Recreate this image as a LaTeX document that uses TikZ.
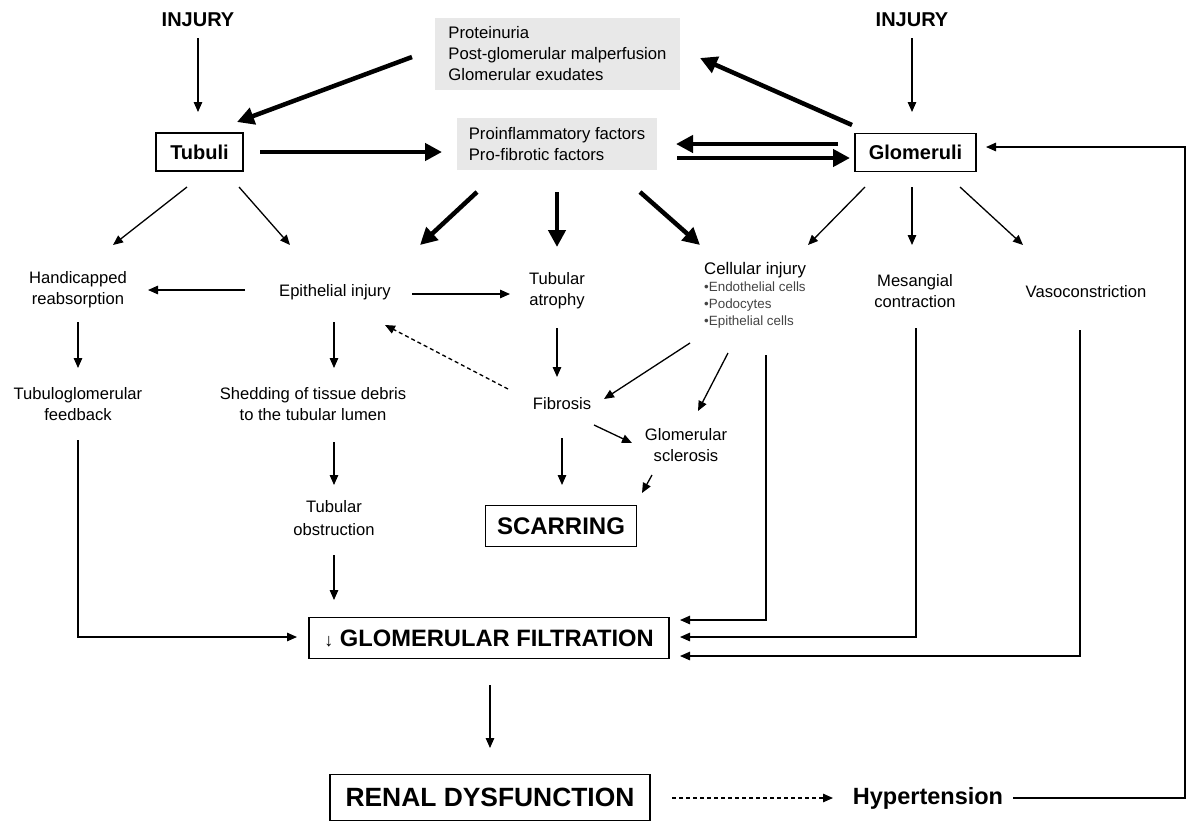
\documentclass[tikz,border=0pt]{standalone}
\usepackage{fontspec}
\setmainfont{Liberation Sans}
\usetikzlibrary{calc,arrows.meta}
\definecolor{greybox}{HTML}{E8E8E8}
\definecolor{bullettext}{HTML}{444444}
\newcommand{\smallcell}{\fontsize{13.4}{17}\selectfont}
\newcommand{\bigcell}{\fontsize{16.8}{18}\selectfont}
\newcommand{\bul}{\color{bullettext}}
\tikzset{
  txt/.style={font=\fontsize{16.6}{21}\selectfont, align=center, inner sep=0pt},
  btxt/.style={font=\fontsize{20}{22}\selectfont\bfseries, align=center, inner sep=0pt},
  frame/.style={draw, line width=1.4pt},
  gbox/.style={fill=greybox, font=\fontsize{16.7}{21}\selectfont, align=left, inner sep=0pt},
  arr/.style={line width=1.3pt, -{Triangle[length=10pt,width=8.5pt]}},
  darr/.style={arr, dashed, dash pattern=on 4pt off 3pt},
  tarr/.style={line width=4.5pt, -{Triangle[length=17pt,width=17pt]}},
}
\begin{document}
\begin{tikzpicture}[x=1pt,y=-1pt]
\useasboundingbox (0,0) rectangle (1200,823);
% nodes
\node[btxt] (injL) at (198,20) {INJURY};
\node[btxt] (injR) at (912,20) {INJURY};
\node[gbox, minimum width=245pt, minimum height=72pt] (prot) at (557.5,54)
  {Proteinuria\\Post-glomerular malperfusion\\Glomerular exudates};
\node[gbox, minimum width=200pt, minimum height=52pt] (profl) at (557,144)
  {Proinflammatory factors\\Pro-fibrotic factors};
\node[btxt, frame, minimum width=87pt, minimum height=38pt] (tubuli) at (199.5,152) {Tubuli};
\node[btxt, frame, minimum width=121pt, minimum height=38pt] (glom) at (915.5,152.5) {Glomeruli};
\node[txt] (hand) at (78,290) {Handicapped\\reabsorption};
\node[txt] (epi) at (335,292) {Epithelial injury};
\node[txt] (atro) at (557,291) {Tubular\\atrophy};
\node[anchor=north west, inner sep=0pt, align=left, font=\smallcell] (cell) at (704,262)
  {\bigcell Cellular injury\\ \smallcell\bul •Endothelial cells\\ \bul •Podocytes\\ \bul •Epithelial cells};
\node[txt] (mes) at (915,291) {Mesangial\\contraction};
\node[txt] (vaso) at (1086,292) {Vasoconstriction};
\node[txt] (tgf) at (78,404) {Tubuloglomerular\\feedback};
\node[txt] (shed) at (313,404) {Shedding of tissue debris\\to the tubular lumen};
\node[txt] (fib) at (562,404) {Fibrosis};
\node[txt] (gscl) at (686,445) {Glomerular\\sclerosis};
\node[txt, font=\fontsize{16.6}{23}\selectfont] (tobs) at (334,518) {Tubular\\obstruction};
\node[frame, minimum width=151pt, minimum height=41pt, font=\fontsize{24}{26}\selectfont\bfseries] (scar) at (561,526) {SCARRING};
\node[frame, minimum width=360pt, minimum height=41pt, font=\fontsize{23.7}{26}\selectfont\bfseries] (gf) at (489,638)
  {{\mdseries\fontsize{18}{20}\selectfont ↓} GLOMERULAR FILTRATION};
\node[frame, minimum width=320pt, minimum height=46pt, font=\fontsize{26.4}{28}\selectfont\bfseries] (renal) at (490,797.5) {RENAL DYSFUNCTION};
\node[font=\fontsize{23.5}{25}\selectfont\bfseries, inner sep=0pt] (hyp) at (928,798) {Hypertension};
\coordinate (corner) at (1185,147);
% injury arrows
\draw[arr] ($(injL)+(0,18)$) -- ($(tubuli)+(-1.5,-40)$);
\draw[arr] ($(injR)+(0,18)$) -- ($(glom)+(-3.5,-40.5)$);
% thick arrows
\draw[tarr] ($(prot)+(-145.5,3)$) -- ($(tubuli)+(37.5,-30)$);
\draw[tarr] ($(glom)+(-63.5,-27.5)$) -- ($(prot)+(142.5,4)$);
\draw[tarr] ($(tubuli)+(60.5,0)$) -- ($(profl)+(-115,8)$);
\draw[tarr] ($(glom)+(-77.5,-8.5)$) -- ($(profl)+(119,0)$);
\draw[tarr] ($(profl)+(120,14)$) -- ($(glom)+(-65.5,5.5)$);
\draw[tarr] ($(profl)+(-80,48)$) -- ($(epi)+(85,-47)$);
\draw[tarr] ($(profl)+(0,48)$) -- ($(atro)+(0,-44)$);
\draw[tarr] ($(profl)+(83,48)$) -- ($(cell.north west)+(-4,-17)$);
% thin arrows from Tubuli and Glomeruli
\draw[arr] ($(tubuli)+(-12.5,35)$) -- ($(hand)+(35,-45)$);
\draw[arr] ($(tubuli)+(39.5,35)$) -- ($(epi)+(-45,-47)$);
\draw[arr] ($(glom)+(-50.5,34.5)$) -- ($(cell.north west)+(104,-17)$);
\draw[arr] ($(glom)+(-3.5,34.5)$) -- ($(mes)+(-3,-46)$);
\draw[arr] ($(glom)+(44.5,34.5)$) -- ($(vaso)+(-63,-47)$);
% middle
\draw[arr] ($(epi)+(-90,-2)$) -- ($(hand)+(70,0)$);
\draw[arr] ($(epi)+(77,2)$) -- ($(atro)+(-47,3)$);
\draw[arr] ($(hand)+(0,32)$) -- ($(tgf)+(0,-36)$);
\draw[arr] ($(epi)+(-1,30)$) -- ($(shed)+(21,-36)$);
\draw[arr] ($(atro)+(0,37)$) -- ($(fib)+(-5,-27)$);
\draw[darr] ($(fib)+(-54,-15)$) -- ($(epi)+(50,33)$);
\draw[arr] ($(cell.north west)+(-14,81)$) -- ($(fib)+(42,-5)$);
\draw[arr] ($(cell.north west)+(24,91)$) -- ($(gscl)+(12,-34)$);
\draw[arr] ($(fib)+(32,21)$) -- ($(gscl)+(-54,-2)$);
\draw[arr] ($(fib)+(0,34)$) -- ($(scar)+(1,-41)$);
\draw[arr] ($(gscl)+(-34,30)$) -- ($(scar)+(81,-33)$);
\draw[arr] ($(shed)+(21,38)$) -- ($(tobs)+(0,-33)$);
\draw[arr] ($(tobs)+(0,37)$) -- ($(gf)+(-155,-38)$);
% into glomerular filtration
\draw[arr] ($(tgf)+(0,36)$) |- ($(gf)+(-192,-1)$);
\draw[arr] ($(cell.north west)+(62,93)$) |- ($(gf)+(191,-18)$);
\draw[arr] ($(mes)+(1,37)$) |- ($(gf)+(191,-1)$);
\draw[arr] ($(vaso)+(-6,38)$) |- ($(gf)+(191,18)$);
% bottom
\draw[arr] ($(gf)+(1,47)$) -- ($(renal)+(0,-49.5)$);
\draw[darr] ($(renal)+(182,0.5)$) -- ($(hyp)+(-95,0)$);
\draw[arr] ($(hyp)+(85,0)$) -- (corner |- hyp) -- (corner) -- ($(glom)+(70.5,-5.5)$);
\end{tikzpicture}
\end{document}
